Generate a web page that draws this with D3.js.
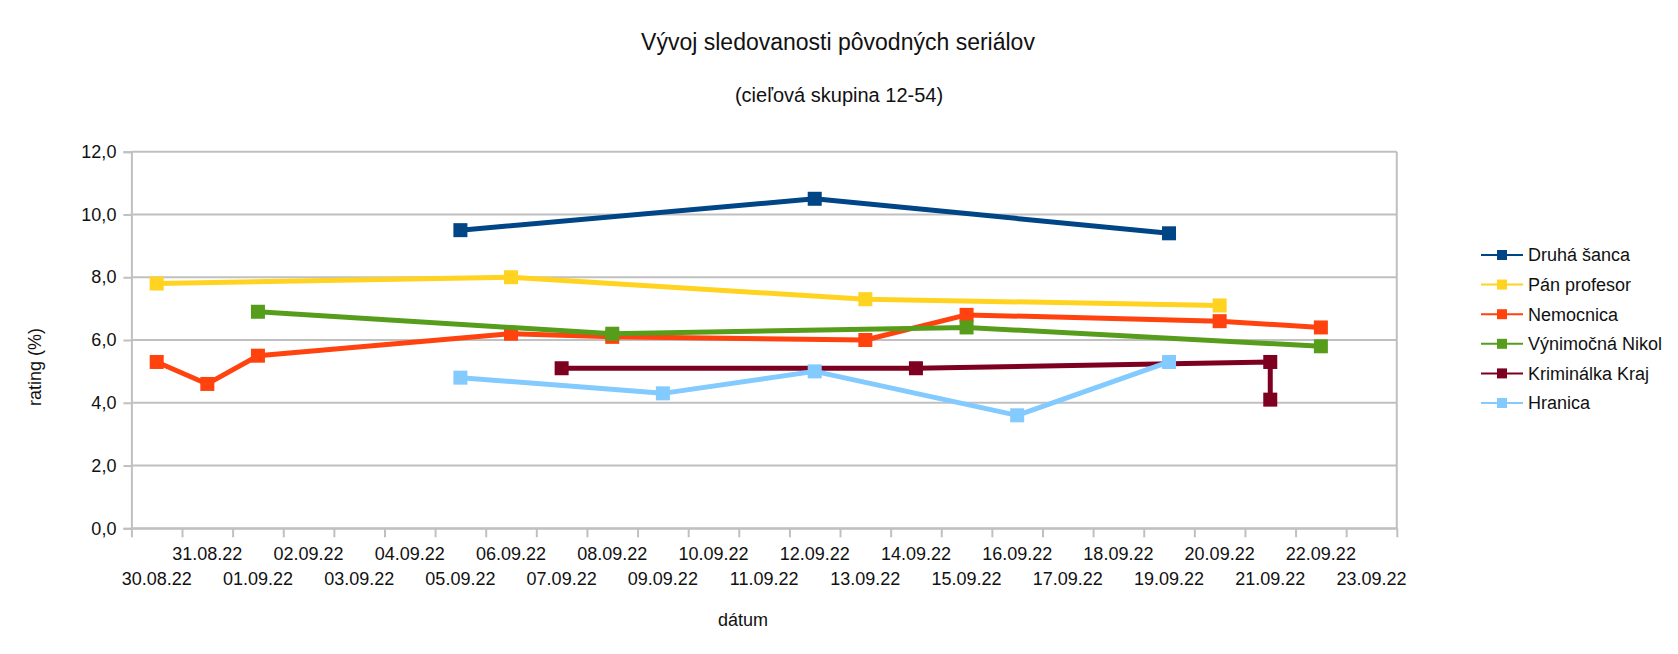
<!DOCTYPE html>
<html>
<head>
<meta charset="utf-8">
<script src="https://cdn.jsdelivr.net/npm/d3@7"></script>
<style>
  body { margin: 0; background: #fff; }
  svg { display: block; font-family: 'Liberation Sans', Arial, sans-serif; }
  text { fill: #111; }
</style>
</head>
<body>
<div id="container"></div>
<script>
// dates of each airing and its rating
const seriesNames = ['Druhá šanca', 'Pán profesor', 'Nemocnica', 'Výnimočná Nikol', 'Kriminálka Kraj', 'Hranica'];
const seriesColors = ['#004586', '#ffd320', '#ff420e', '#579d1c', '#7e0021', '#83caff'];

const druhaSancaDates = ['05.09.22', '12.09.22', '19.09.22'];
const druhaSancaValues = [9.5, 10.5, 9.4];
const panProfesorDates = ['30.08.22', '06.09.22', '13.09.22', '20.09.22'];
const panProfesorValues = [7.8, 8.0, 7.3, 7.1];
const nemocnicaDates = ['30.08.22', '31.08.22', '01.09.22', '06.09.22', '08.09.22', '13.09.22', '15.09.22', '20.09.22', '22.09.22'];
const nemocnicaValues = [5.3, 4.6, 5.5, 6.2, 6.1, 6.0, 6.8, 6.6, 6.4];
const nikolDates = ['01.09.22', '08.09.22', '15.09.22', '22.09.22'];
const nikolValues = [6.9, 6.2, 6.4, 5.8];
const kriminalkaDates = ['07.09.22', '14.09.22', '21.09.22', '21.09.22'];
const kriminalkaValues = [5.1, 5.1, 5.3, 4.1];
const hranicaDates = ['05.09.22', '09.09.22', '12.09.22', '16.09.22', '19.09.22'];
const hranicaValues = [4.8, 4.3, 5.0, 3.6, 5.3];

const xStart = '30.08.22';
const xEnd = '24.09.22';
const yTicks = [0, 2, 4, 6, 8, 10, 12];

const width = 1678; const height = 654;
const margin = {top: 151.7, right: 281.2, bottom: 125.7, left: 131.4};

const parse = d3.utcParse('%d.%m.%y');
const fmtDate = d3.utcFormat('%d.%m.%y');
const skLocale = d3.formatLocale({decimal: ',', thousands: ' ', grouping: [3], currency: ['', ' €']});
const fmtY = skLocale.format('.1f');
const halfDay = (d) => d3.utcHour.offset(d, 12);

const series = [
  [druhaSancaDates, druhaSancaValues],
  [panProfesorDates, panProfesorValues],
  [nemocnicaDates, nemocnicaValues],
  [nikolDates, nikolValues],
  [kriminalkaDates, kriminalkaValues],
  [hranicaDates, hranicaValues],
].map(([ds, vs], i) => ({
  name: seriesNames[i],
  color: seriesColors[i],
  points: ds.map((d, j) => ({date: halfDay(parse(d)), value: vs[j]})),
}));

const svg = d3.select('#container').append('svg')
    .attr('width', width)
    .attr('height', height);

const x = d3.scaleUtc()
    .domain([parse(xStart), parse(xEnd)])
    .range([margin.left, width - margin.right]);
const y = d3.scaleLinear()
    .domain([0, 12])
    .range([height - margin.bottom, margin.top]);

// titles
svg.append('text').attr('x', 838).attr('y', 50)
    .attr('text-anchor', 'middle').style('font-size', '23px')
    .text('Vývoj sledovanosti pôvodných seriálov');
svg.append('text').attr('x', 839).attr('y', 102)
    .attr('text-anchor', 'middle').style('font-size', '20px')
    .text('(cieľová skupina 12-54)');

// gridlines
svg.append('g').selectAll('line').data(yTicks).join('line')
    .attr('x1', margin.left).attr('x2', width - margin.right)
    .attr('y1', (d) => y(d)).attr('y2', (d) => y(d))
    .attr('stroke', '#c0c0c0').attr('stroke-width', 2);

// right border of the wall
svg.append('line')
    .attr('x1', width - margin.right).attr('x2', width - margin.right)
    .attr('y1', y(12)).attr('y2', y(0))
    .attr('stroke', '#c0c0c0').attr('stroke-width', 2);

// y axis
const yAxis = svg.append('g')
    .attr('transform', `translate(${margin.left},0)`)
    .call(d3.axisLeft(y).tickValues(yTicks).tickFormat(fmtY).tickSize(8).tickPadding(7));
yAxis.select('.domain').attr('stroke', '#c0c0c0').attr('stroke-width', 2);
yAxis.selectAll('.tick line').attr('stroke', '#c0c0c0').attr('stroke-width', 2);
yAxis.selectAll('.tick text').style('font-size', '18px').attr('fill', '#111');

// x axis: tick marks at day boundaries
const days = d3.utcDay.range(parse(xStart), d3.utcDay.offset(parse(xEnd), 1));
const xAxis = svg.append('g')
    .attr('transform', `translate(0,${y(0)})`)
    .call(d3.axisBottom(x).tickValues(days).tickFormat('').tickSize(9).tickSizeOuter(0));
xAxis.select('.domain').attr('stroke', '#c0c0c0').attr('stroke-width', 2);
xAxis.selectAll('.tick line').attr('stroke', '#c0c0c0').attr('stroke-width', 2);

// x labels at day centres, staggered on two rows
const labelDays = days.slice(0, -1);
svg.append('g').selectAll('text').data(labelDays).join('text')
    .attr('x', (d) => x(halfDay(d)))
    .attr('y', (d, i) => i % 2 === 0 ? 585 : 560)
    .attr('text-anchor', 'middle')
    .style('font-size', '18px')
    .text((d) => fmtDate(d));

// axis titles
svg.append('text').attr('x', 743).attr('y', 626)
    .attr('text-anchor', 'middle').style('font-size', '18px').text('dátum');
svg.append('text')
    .attr('transform', 'translate(41,367) rotate(-90)')
    .attr('text-anchor', 'middle').style('font-size', '18px').text('rating (%)');

// lines and markers
const line = d3.line().x((d) => x(d.date)).y((d) => y(d.value));
const gSeries = svg.append('g').selectAll('g').data(series).join('g');
gSeries.append('path')
    .attr('d', (d) => line(d.points))
    .attr('fill', 'none')
    .attr('stroke', (d) => d.color)
    .attr('stroke-width', 5)
    .attr('stroke-linejoin', 'round');
gSeries.selectAll('rect').data((d) => d.points.map((p) => ({...p, color: d.color}))).join('rect')
    .attr('x', (d) => x(d.date) - 7)
    .attr('y', (d) => y(d.value) - 7)
    .attr('width', 14).attr('height', 14)
    .attr('fill', (d) => d.color);

// legend
const legend = svg.append('g').attr('transform', 'translate(1481,255)');
const item = legend.selectAll('g').data(series).join('g')
    .attr('transform', (d, i) => `translate(0,${i * 29.6})`);
item.append('line').attr('x1', 0).attr('x2', 42)
    .attr('stroke', (d) => d.color).attr('stroke-width', 2);
item.append('rect').attr('x', 21 - 5).attr('y', -5).attr('width', 10).attr('height', 10)
    .attr('fill', (d) => d.color);
item.append('text').attr('x', 47).attr('dy', '0.35em')
    .style('font-size', '18px').text((d) => d.name);
</script>
</body>
</html>
